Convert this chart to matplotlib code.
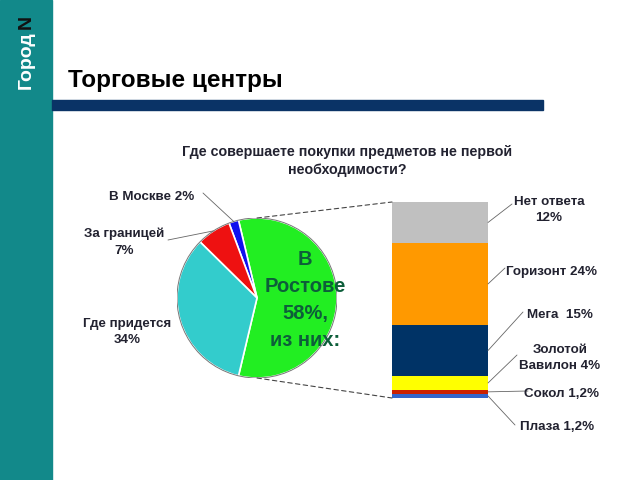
import numpy as np
import matplotlib
matplotlib.use('Agg')
import matplotlib.pyplot as plt
from matplotlib.patches import Rectangle, Circle, ConnectionPatch

plt.rcParams['font.family'] = ['Liberation Sans', 'DejaVu Sans']

# pie: where people shop
pie_labels = ['В Ростове', 'В Москве 2%', 'За границей\n7%', 'Где придется\n34%']
pie_values = [58, 2, 7, 34]
pie_colors = ['#22EE22', '#1111EE', '#EE1111', '#33CCCC']

# bar: breakdown of "В Ростове", bottom to top
bar_labels = ['Плаза 1,2%', 'Сокол 1,2%', 'Золотой\nВавилон 4%', 'Мега  15%',
              'Горизонт 24%', 'Нет ответа\n12%']
bar_values = [1.2, 1.2, 4, 15, 24, 12]
bar_colors = ['#3366CC', '#CC2200', '#FFFF00', '#003366', '#FF9900', '#C0C0C0']

chart_title = 'Где совершаете покупки предметов не первой\nнеобходимости?'
slide_title = 'Торговые центры'
text_col = '#222230'

fig = plt.figure(figsize=(6.4, 4.8), dpi=100)

# pie axes
pax = fig.add_axes([177 / 640, (480 - 378) / 480, 160 / 640, 160 / 480])
start = -pie_values[0] / sum(pie_values) * 180
wedges, _ = pax.pie(pie_values, colors=pie_colors, startangle=start,
                    wedgeprops=dict(edgecolor='white', linewidth=1.2))
pax.add_patch(Circle((0, 0), 1, fill=False, edgecolor='#777777', linewidth=0.7))
pax.set_xlim(-1, 1)
pax.set_ylim(-1, 1)
pax.axis('off')

# stacked bar axes
bax = fig.add_axes([392 / 640, (480 - 398) / 480, 96 / 640, 196 / 480])
bottom = 0
mids = []
for v, c in zip(bar_values, bar_colors):
    bax.bar(0, v, width=1, bottom=bottom, color=c, edgecolor='none')
    mids.append(bottom + v / 2)
    bottom += v
total = bottom
bax.set_xlim(-0.5, 0.5)
bax.set_ylim(0, total)
bax.axis('off')

# overlay in pixel coordinates
ax = fig.add_axes([0, 0, 1, 1])
ax.set_xlim(0, 640)
ax.set_ylim(480, 0)
ax.axis('off')
ax.set_zorder(5)

ax.add_patch(Rectangle((0, 0), 52, 480, color='#12898A'))
ax.add_patch(Rectangle((52, 100), 491, 10, color='#0A3366'))
narrow = ['Liberation Sans Narrow', 'Liberation Sans', 'DejaVu Sans']
ax.text(26, 31, 'Город', rotation=90, ha='center', va='top', color='white',
        fontsize=14, fontweight='bold', family=narrow)
ax.text(26, 29, 'N', rotation=90, ha='center', va='bottom', color='#111111',
        fontsize=14, fontweight='bold', family=narrow)
ax.text(68, 80, slide_title, ha='left', va='center', fontsize=17.5,
        fontweight='bold', color='black')

ax.text(347, 161, chart_title, ha='center', va='center', fontsize=10.3,
        fontweight='bold', color=text_col, linespacing=1.45)

ax.text(305, 300, 'В\nРостове\n58%,\nиз них:', ha='center', va='center',
        fontsize=14.5, fontweight='bold', color='#0D5E3A', linespacing=1.55)

# pie labels
pie_pos = [None, (152, 197), (124, 242), (127, 332)]
pie_ends = [None, (203, 193), (168, 240), None]
for i in range(1, len(pie_labels)):
    ax.text(*pie_pos[i], pie_labels[i], ha='center', va='center', fontsize=9.6,
            fontweight='bold', color=text_col, linespacing=1.5)
for i, w in enumerate(wedges):
    if pie_ends[i] is None:
        continue
    mid = np.radians((w.theta1 + w.theta2) / 2)
    edge = (w.center[0] + w.r * np.cos(mid), w.center[1] + w.r * np.sin(mid))
    ax.add_artist(ConnectionPatch(xyA=pie_ends[i], coordsA=ax.transData,
                                  xyB=edge, coordsB=pax.transData,
                                  color='#666666', lw=0.6))

# bar labels
bar_pos = [(557, 427), (562, 394), (560, 358), (560, 315), (552, 272), (549, 210)]
bar_ends = [(515, 425), (528, 391), (517, 355), (523, 312), (505, 268), (512, 204)]
for lab, p, e, m in zip(bar_labels, bar_pos, bar_ends, mids):
    ax.text(*p, lab, ha='center', va='center', fontsize=9.6, fontweight='bold',
            color=text_col, linespacing=1.5)
    ax.add_artist(ConnectionPatch(xyA=(0.5, m), coordsA=bax.transData,
                                  xyB=e, coordsB=ax.transData,
                                  color='#666666', lw=0.6))

# dashed connectors pie -> bar
for py, by in [(1, total), (-1, 0)]:
    ax.add_artist(ConnectionPatch(xyA=(0, py), coordsA=pax.transData,
                                  xyB=(-0.5, by), coordsB=bax.transData,
                                  color='#444444', lw=0.8, linestyle=(0, (4, 3))))

fig.savefig('out.png', dpi=100)
